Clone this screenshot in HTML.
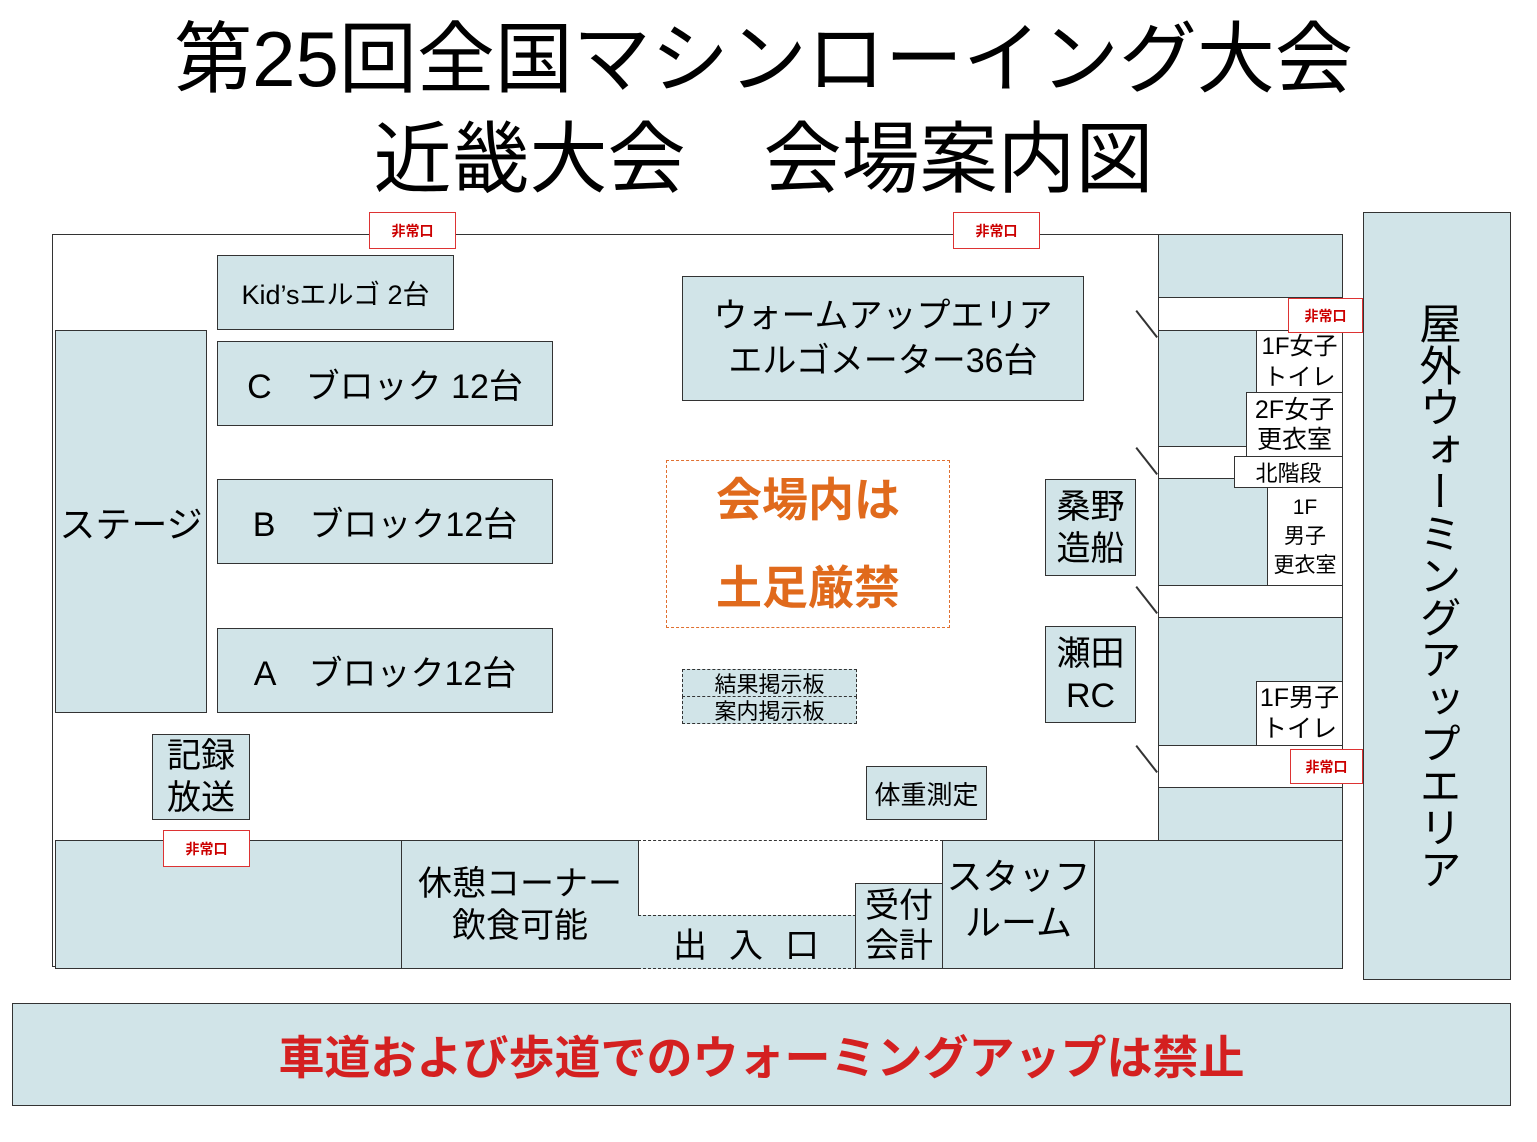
<!DOCTYPE html>
<html><head><meta charset="utf-8"><style>
body{margin:0;width:1537px;height:1142px;background:#fff;position:relative;overflow:hidden;font-family:"Liberation Sans","Noto Sans CJK JP",sans-serif;}
div{position:absolute;box-sizing:border-box;}
.f{background:#d1e4e8;border:1.5px solid #333;}
.w{background:#fff;border:1.5px solid #333;}
.c{display:flex;align-items:center;justify-content:center;text-align:center;color:#000;}
.ex{background:#fff;border:1.5px solid #d33;color:#c00;font-weight:bold;font-size:14px;display:flex;align-items:center;justify-content:center;}
.t{left:0;width:1537px;text-align:center;font-size:78px;line-height:1;color:#000;}
.dg{height:1.5px;background:#333;width:34px;transform-origin:0 0;transform:rotate(52deg);}
</style></head><body>
<div class="t" style="top:20px;left:-5px">第25回全国マシンローイング大会</div>
<div class="t" style="top:120px;left:-5px">近畿大会　会場案内図</div>

<div style="left:52px;top:234px;width:1108px;height:733px;border:1.5px solid #333;"></div>

<div class="f" style="left:1158px;top:234px;width:185px;height:64px"></div>
<div class="w" style="left:1158px;top:297px;width:185px;height:34px"></div>
<div class="f" style="left:1158px;top:330px;width:185px;height:117px"></div>
<div class="w" style="left:1158px;top:446px;width:185px;height:33px"></div>
<div class="f" style="left:1158px;top:478px;width:185px;height:108px"></div>
<div class="w" style="left:1158px;top:585px;width:185px;height:33px"></div>
<div class="f" style="left:1158px;top:617px;width:185px;height:129px"></div>
<div class="w" style="left:1158px;top:745px;width:185px;height:43px"></div>
<div class="f" style="left:1158px;top:787px;width:185px;height:54px"></div>
<div class="w c" style="left:1256px;top:330px;width:87px;height:63px;font-size:24px;line-height:31px">1F女子<br>トイレ</div>
<div class="w c" style="left:1246px;top:392px;width:97px;height:65px;font-size:25px;line-height:30px">2F女子<br>更衣室</div>
<div class="w c" style="left:1234px;top:456px;width:109px;height:32px;font-size:22px">北階段</div>
<div class="w c" style="left:1267px;top:487px;width:76px;height:99px;font-size:21px;line-height:29px">1F<br>男子<br>更衣室</div>
<div class="w c" style="left:1256px;top:681px;width:87px;height:65px;font-size:25px;line-height:31px">1F男子<br>トイレ</div>
<div class="dg" style="left:1137px;top:310px"></div>
<div class="dg" style="left:1137px;top:447px"></div>
<div class="dg" style="left:1137px;top:586px"></div>
<div class="dg" style="left:1137px;top:745px"></div>

<div class="f c" style="left:1363px;top:212px;width:148px;height:768px;font-size:42px;line-height:50px;writing-mode:vertical-rl;letter-spacing:0px">屋外ウォーミングアップエリア</div>

<div class="f c" style="left:55px;top:330px;width:152px;height:383px;font-size:36px">ステージ</div>
<div class="f c" style="left:217px;top:255px;width:237px;height:75px;font-size:27px">Kid’sエルゴ 2台</div>
<div class="f c" style="left:217px;top:341px;width:336px;height:85px;font-size:34px">C　ブロック 12台</div>
<div class="f c" style="left:217px;top:479px;width:336px;height:85px;font-size:34px">B　ブロック12台</div>
<div class="f c" style="left:217px;top:628px;width:336px;height:85px;font-size:34px">A　ブロック12台</div>
<div class="f c" style="left:152px;top:734px;width:98px;height:86px;font-size:34px;line-height:42px">記録<br>放送</div>
<div class="f c" style="left:682px;top:276px;width:402px;height:125px;font-size:34px;line-height:45px">ウォームアップエリア<br>エルゴメーター36台</div>
<div class="c" style="left:666px;top:460px;width:284px;height:168px;border:1.5px dashed #e07030;color:#e06a1c;font-size:46px;font-weight:bold;line-height:88px">会場内は<br>土足厳禁</div>
<div class="f c" style="left:682px;top:669px;width:175px;height:28px;border-style:dashed;font-size:22px">結果掲示板</div>
<div class="f c" style="left:682px;top:696px;width:175px;height:28px;border-style:dashed;font-size:22px">案内掲示板</div>
<div class="f c" style="left:1045px;top:479px;width:91px;height:97px;font-size:34px;line-height:42px">桑野<br>造船</div>
<div class="f c" style="left:1045px;top:626px;width:91px;height:97px;font-size:34px;line-height:42px">瀬田<br>RC</div>
<div class="f c" style="left:866px;top:766px;width:121px;height:54px;font-size:26px">体重測定</div>

<div class="f" style="left:55px;top:840px;width:347px;height:129px"></div>
<div class="f c" style="left:401px;top:840px;width:238px;height:129px;font-size:34px;line-height:42px">休憩コーナー<br>飲食可能</div>
<div style="left:638px;top:840px;width:305px;height:0;border-top:1.5px dashed #333"></div>
<div class="c" style="left:638px;top:915px;width:218px;height:54px;background:#d1e4e8;border-top:1.5px dashed #333;border-bottom:1.5px dashed #333;font-size:34px;letter-spacing:22px;padding-left:20px">出入口</div>
<div class="f c" style="left:855px;top:883px;width:88px;height:86px;font-size:34px;line-height:40px">受付<br>会計</div>
<div class="f c" style="left:942px;top:840px;width:153px;height:129px;font-size:36px;line-height:46px;padding-bottom:10px">スタッフ<br>ルーム</div>
<div class="f" style="left:1094px;top:840px;width:249px;height:129px"></div>

<div class="ex" style="left:369px;top:212px;width:87px;height:37px">非常口</div>
<div class="ex" style="left:953px;top:212px;width:87px;height:37px">非常口</div>
<div class="ex" style="left:1288px;top:298px;width:75px;height:35px">非常口</div>
<div class="ex" style="left:1290px;top:749px;width:73px;height:35px">非常口</div>
<div class="ex" style="left:163px;top:830px;width:87px;height:37px">非常口</div>

<div class="f c" style="left:12px;top:1003px;width:1499px;height:103px;color:#d42020;font-size:46px;font-weight:bold">車道および歩道でのウォーミングアップは禁止</div>
</body></html>
